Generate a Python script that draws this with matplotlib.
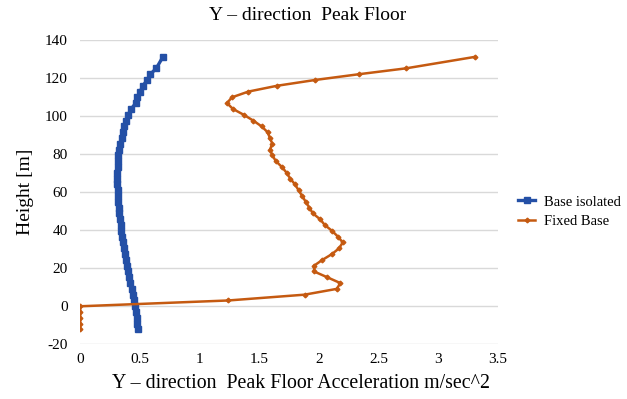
import matplotlib.pyplot as plt

# floor heights [m]
heights = [-12.2, -9.15, -6.1, -3.05, 0.0, 3.05, 6.1, 9.15, 12.2, 15.25,
           18.3, 21.35, 24.4, 27.45, 30.5, 33.55, 36.6, 39.65, 42.7, 45.75,
           48.8, 51.85, 54.9, 57.95, 61.0, 64.05, 67.1, 70.15, 73.2, 76.25,
           79.3, 82.35, 85.4, 88.45, 91.5, 94.55, 97.6, 100.65, 103.7, 106.75,
           109.8, 112.85, 115.9, 118.95, 122.0, 125.05, 131.1]

# peak floor acceleration [m/s^2]
base_isolated = [0.48, 0.477, 0.473, 0.468, 0.461, 0.454, 0.443, 0.431, 0.418, 0.41,
                 0.402, 0.392, 0.384, 0.374, 0.365, 0.358, 0.35, 0.343, 0.339, 0.333,
                 0.327, 0.324, 0.32, 0.317, 0.314, 0.31, 0.308, 0.312, 0.316, 0.318,
                 0.32, 0.323, 0.333, 0.346, 0.358, 0.368, 0.384, 0.402, 0.426, 0.465,
                 0.475, 0.503, 0.524, 0.563, 0.588, 0.637, 0.693]

fixed_base = [0.0, 0.0, 0.0, 0.0, 0.0, 1.24, 1.88, 2.15, 2.18, 2.07,
              1.96, 1.96, 2.03, 2.11, 2.17, 2.2, 2.16, 2.11, 2.05, 2.01,
              1.95, 1.92, 1.89, 1.86, 1.83, 1.8, 1.76, 1.73, 1.69, 1.64,
              1.61, 1.59, 1.61, 1.59, 1.57, 1.52, 1.45, 1.37, 1.28, 1.23,
              1.27, 1.41, 1.65, 1.97, 2.34, 2.73, 3.31]

plt.rcParams['font.family'] = ['Liberation Serif', 'DejaVu Serif']
plt.rcParams['axes.unicode_minus'] = False

fig = plt.figure(figsize=(6.27, 3.99), dpi=100)
ax = fig.add_axes([0.128, 0.137, 0.666, 0.763])

ax.plot(base_isolated, heights, color='#2450a6', lw=2.4, marker='s', ms=4,
        label='Base isolated', zorder=3)
ax.plot(fixed_base, heights, color='#c55a11', lw=1.8, marker='D', ms=2.4,
        label='Fixed Base', zorder=3)

ax.set_xlim(0, 3.5)
ax.set_ylim(-20, 140)
ax.set_xticks([0, 0.5, 1, 1.5, 2, 2.5, 3, 3.5])
ax.set_xticklabels(['0', '0.5', '1', '1.5', '2', '2.5', '3', '3.5'])
ax.set_yticks(range(-20, 141, 20))
ax.grid(axis='y', color='#d9d9d9', lw=1)
ax.set_axisbelow(True)
for s in ax.spines.values():
    s.set_visible(False)
ax.tick_params(length=0, labelsize=11)
ax.tick_params(axis='y', pad=9)
ax.tick_params(axis='x', pad=6)

fig.text(0.49, 0.962, 'Y – direction  Peak Floor', fontsize=14, ha='center', va='center')
fig.text(0.48, 0.038, 'Y – direction  Peak Floor Acceleration m/sec^2', fontsize=14.3,
         ha='center', va='center')
ax.set_ylabel('Height [m]', fontsize=14, labelpad=8)

fig.legend(loc='center left', bbox_to_anchor=(0.826, 0.469), frameon=False,
           fontsize=10.5, handlelength=1.2, handletextpad=0.6, labelspacing=0.45,
           borderpad=0, borderaxespad=0)

fig.savefig('out.png', dpi=100)
